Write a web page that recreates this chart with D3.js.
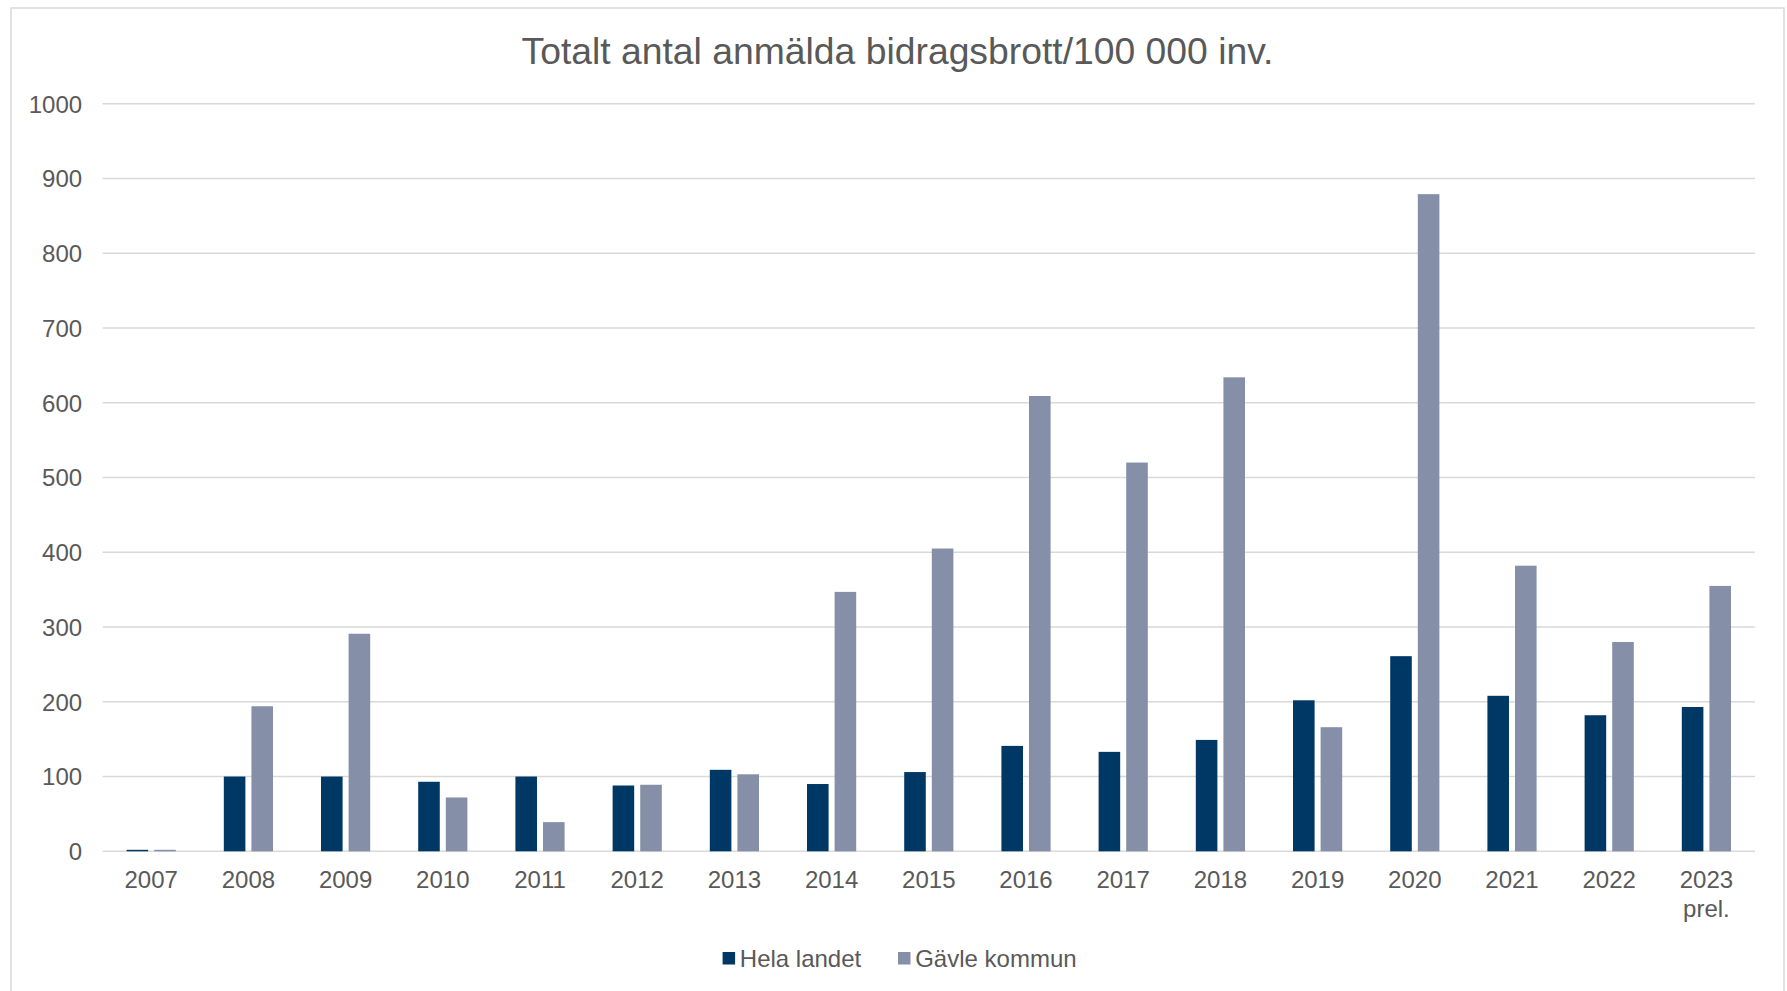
<!DOCTYPE html>
<html><head><meta charset="utf-8">
<script src="https://cdn.jsdelivr.net/npm/d3@7"></script>
<style>
html,body{margin:0;padding:0;background:#fff;}
svg{display:block;}
text{font-family:"Liberation Sans",Arial,sans-serif;fill:#595959;}
</style></head>
<body>
<svg id="chart" width="1787" height="991"></svg>
<script>
const categories = ["2007","2008","2009","2010","2011","2012","2013","2014","2015","2016","2017","2018","2019","2020","2021","2022","2023\nprel."];
const helaLandet = [2,100,100,93,100,88,109,90,106,141,133,149,202,261,208,182,193];
const gavleKommun = [2,194,291,72,39,89,103,347,405,609,520,634,166,879,382,280,355];
const seriesNames = ["Hela landet","Gävle kommun"];
const yTicks = [0,100,200,300,400,500,600,700,800,900,1000];
const title = "Totalt antal anmälda bidragsbrott/100 000 inv.";

(function(){
const colors = ["#003865","#858fa7"];
const svg = d3.select("#chart");
const FS = "24px";

// frame
svg.append("rect").attr("x",11).attr("y",8).attr("width",1773).attr("height",1000)
  .attr("fill","#fff").attr("stroke","#d9d9d9").attr("stroke-width",1.5);

const pL = 102.6, pR = 1755, pT = 103.7, pB = 851.3;
const x = d3.scaleBand().domain(categories).range([pL,pR]).padding(0);
const y = d3.scaleLinear().domain([0,1000]).range([pB,pT]);

// gridlines
svg.append("g").selectAll("line").data(yTicks).join("line")
  .attr("x1",pL).attr("x2",pR)
  .attr("y1",d=>y(d)).attr("y2",d=>y(d))
  .attr("stroke","#d9d9d9").attr("stroke-width",1.5);

// y labels
const yAxis = d3.axisLeft(y).tickValues(yTicks).tickSize(0).tickPadding(0).tickFormat(d3.format("d"));
const gy = svg.append("g").attr("transform",`translate(${pL-20.5},0)`).call(yAxis);
gy.select(".domain").remove();
gy.selectAll("text").style("font-size",FS).attr("fill","#595959")
  .style("font-family",'"Liberation Sans",Arial,sans-serif').attr("dy","0.35em");

// bars
const bw = x.bandwidth();
const barW = bw*0.222, gap = bw*0.062;
const series = [helaLandet, gavleKommun];
series.forEach((vals,si)=>{
  svg.append("g").selectAll("rect").data(vals).join("rect")
    .attr("x",(d,i)=> x(categories[i]) + bw/2 + (si===0 ? -gap/2-barW : gap/2))
    .attr("y",d=>y(d))
    .attr("width",barW)
    .attr("height",d=>y(0)-y(d))
    .attr("fill",colors[si]);
});

// x labels
const xAxis = d3.axisBottom(x).tickSize(0).tickPadding(0);
const gx = svg.append("g").attr("transform",`translate(0,${pB})`).call(xAxis);
gx.select(".domain").remove();
gx.selectAll("text").each(function(d){
  const t = d3.select(this);
  t.text(null).attr("y",0).attr("dy",null)
   .style("font-size",FS).attr("fill","#595959")
   .style("font-family",'"Liberation Sans",Arial,sans-serif');
  d.split("\n").forEach((line,li)=>{
    t.append("tspan").attr("x",0).attr("y",37+li*28.5).text(line);
  });
});

// title
svg.append("text").attr("x",897.5).attr("y",63.5)
  .attr("text-anchor","middle").style("font-size","37.3px").attr("fill","#595959")
  .text(title);

// legend
const legendItems = [{name:seriesNames[0],c:colors[0],x:722.6},{name:seriesNames[1],c:colors[1],x:898}];
const lg = svg.append("g");
legendItems.forEach(it=>{
  lg.append("rect").attr("x",it.x).attr("y",952).attr("width",12.5).attr("height",12.5).attr("fill",it.c);
  lg.append("text").attr("x",it.x+17.2).attr("y",966.5).style("font-size",FS).attr("fill","#595959").text(it.name);
});
})();
</script>
</body></html>
